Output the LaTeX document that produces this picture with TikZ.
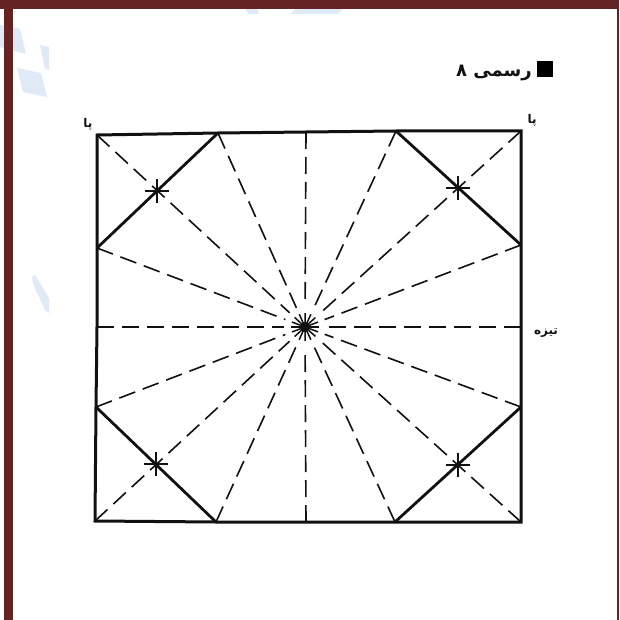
\documentclass[tikz,border=0pt]{standalone}
\usepackage{fontspec}
\usetikzlibrary{calc}
\TeXXeTstate=1
\newfontfamily\arabicfont[Script=Arabic]{DejaVu Sans}
\definecolor{barc}{HTML}{652323}
\definecolor{wm}{HTML}{E0EAF7}
\definecolor{inkc}{HTML}{111111}
\tikzset{
  edgeline/.style={draw=inkc,line width=3pt,line join=miter},
  foldline/.style={draw=inkc,line width=2.8pt},
  rayline/.style={draw=inkc,line width=1.6pt,dash pattern=on 17pt off 8pt,shorten >=21pt},
  burst/.style={draw=inkc,line width=1.5pt},
  crossmark/.style={draw=inkc,line width=2.3pt},
  wmshape/.style={fill=wm,draw=none},
  pt/.style={inner sep=0pt,minimum size=0pt},
  lab/.style={text=inkc,inner sep=0pt,font=\arabicfont\bfseries\fontsize{12}{14}\selectfont}
}
\begin{document}
\begin{tikzpicture}[x=1pt,y=-1pt]
\useasboundingbox (0,0) rectangle (619,620);
\fill[white] (0,0) rectangle (619,620);
% watermark
\fill[wmshape] (0,25) -- (20,29) -- (26,54) -- (3,48) -- (0,47) -- cycle;
\fill[wmshape] (40,45) -- (49,47) -- (49,70) -- (45,69) -- cycle;
\fill[wmshape] (17,68) -- (41,73) -- (47,97) -- (23,92) -- cycle;
\fill[wmshape] (32,277) -- (35,275) -- (49,298) -- (49,313) -- (45,310) -- (33,284) -- cycle;
\fill[wmshape] (245,9) -- (257,9) -- (259,14) -- (249,14) -- cycle;
\fill[wmshape] (295,9) -- (342,9) -- (338,14) -- (291,14) -- cycle;
% frame
\fill[barc] (0,0) rectangle (619,9);
\fill[barc] (4,0) rectangle (13,620);
\fill[barc] (617,0) rectangle (619,620);
% points
\coordinate (O) at (305,327);
\coordinate (TL) at (97,135);
\coordinate (TR) at (521,131);
\coordinate (BR) at (521,522);
\coordinate (BL) at (95,521);
\coordinate (T1) at (218,133);
\coordinate (T2) at (306,132);
\coordinate (T3) at (396,131);
\coordinate (R1) at (521,245);
\coordinate (R2) at (521,327);
\coordinate (R3) at (521,407);
\coordinate (B1) at (395,522);
\coordinate (B2) at (306,522);
\coordinate (B3) at (216,522);
\coordinate (L1) at (96,407);
\coordinate (L2) at (97,327);
\coordinate (L3) at (97,248);
% rays
\foreach \p in {TL,T1,T2,T3,TR,R1,R2,R3,BR,B1,B2,B3,BL,L1,L2,L3}{
  \draw[rayline] (\p) -- (O);
  \draw[burst] (O) -- ($(O)!14pt!(\p)$);
}
\fill[inkc] (O) circle (5pt);
% outline
\draw[edgeline] (TL) -- (T1) -- (T2) -- (T3) -- (TR) -- (R1) -- (R2) -- (R3) -- (BR) -- (B1) -- (B2) -- (B3) -- (BL) -- (L1) -- (L2) -- (L3) -- cycle;
% corner folds
\draw[foldline] (L3) -- (T1);
\draw[foldline] (T3) -- (R1);
\draw[foldline] (L1) -- (B3);
\draw[foldline] (B1) -- (R3);
% stars
\foreach \n/\x/\y in {sa/157/191,sb/458/188,sc/156/464,sd/458/465}{
  \coordinate (\n) at (\x,\y);
  \draw[crossmark] ([xshift=-12pt]\n) -- ([xshift=12pt]\n);
  \draw[crossmark] ([yshift=-12pt]\n) -- ([yshift=12pt]\n);
}
% title
\node[pt,fill=black,minimum width=16pt,minimum height=16pt] (sq) at (545,69) {};
\node[lab,font=\arabicfont\bfseries\fontsize{18}{20}\selectfont,anchor=east] (title) at (532,73) {\beginR رسمی ۸\endR};
\node[lab] (pa1) at (88,124) {\beginR پا\endR};
\node[lab] (pa2) at (532,120) {\beginR پا\endR};
\node[lab] (tz) at (546,333) {\beginR تیزه\endR};
\end{tikzpicture}
\end{document}
